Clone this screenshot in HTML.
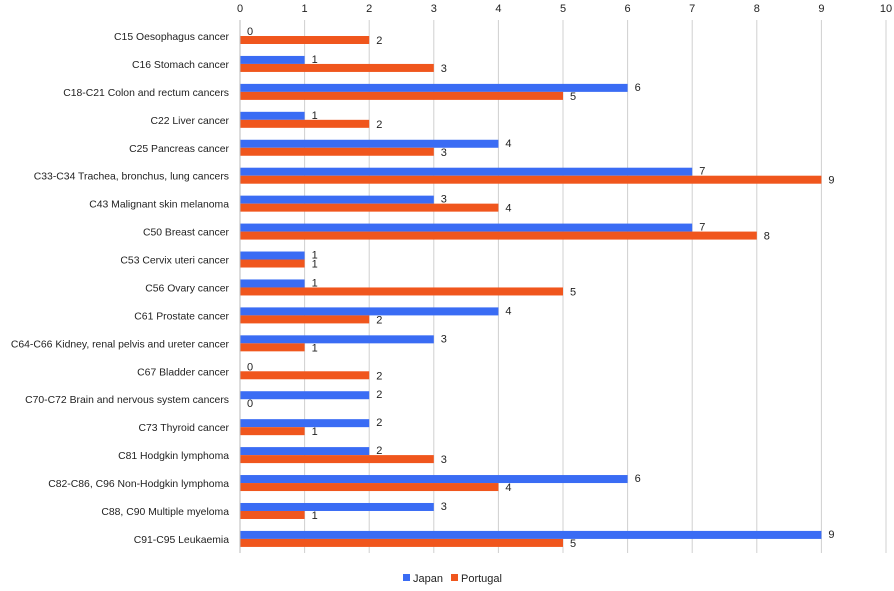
<!DOCTYPE html>
<html><head><meta charset="utf-8"><style>
body{margin:0;background:#fff;font-family:"Liberation Sans",sans-serif;}
svg text{font-family:"Liberation Sans",sans-serif;font-size:11px;fill:#222;}
svg text.cat{font-size:10.4px;}
</style></head><body>
<svg id="c" width="894" height="586"></svg>
<script>
const categories=["C15 Oesophagus cancer","C16 Stomach cancer","C18-C21 Colon and rectum cancers","C22 Liver cancer","C25 Pancreas cancer","C33-C34 Trachea, bronchus, lung cancers","C43 Malignant skin melanoma","C50 Breast cancer","C53 Cervix uteri cancer","C56 Ovary cancer","C61 Prostate cancer","C64-C66 Kidney, renal pelvis and ureter cancer","C67 Bladder cancer","C70-C72 Brain and nervous system cancers","C73 Thyroid cancer","C81 Hodgkin lymphoma","C82-C86, C96 Non-Hodgkin lymphoma","C88, C90 Multiple myeloma","C91-C95 Leukaemia"];
const japan=[0,1,6,1,4,7,3,7,1,1,4,3,0,2,2,2,6,3,9];
const portugal=[2,3,5,2,3,9,4,8,1,5,2,1,2,0,1,3,4,1,5];
const ticks=[0,1,2,3,4,5,6,7,8,9,10];
const svg=document.getElementById('c');const NS='http://www.w3.org/2000/svg';
const x=v=>240+v*64.6;
const y=i=>36+i*27.94;
function mk(t,a,txt){const e=document.createElementNS(NS,t);for(const k in a)e.setAttribute(k,a[k]);if(txt!==undefined)e.textContent=txt;svg.appendChild(e);return e;}
ticks.forEach(t=>{
 const g=mk('line',{x1:x(t),x2:x(t),y1:20,y2:553,stroke:'#d0d0d0','stroke-width':1});
 
 
 const l=mk('text',{x:x(t),y:12,'text-anchor':'middle'},t);
 
 
});
categories.forEach((c,i)=>{
 const l=mk('text',{x:229,y:y(i)+4,'text-anchor':'end','class':'cat'},c);
 
 
 const b1=mk('rect',{x:x(0),y:y(i)-8,width:x(japan[i])-x(0),height:8,fill:'#3a6cf4'});
 
 
 const b2=mk('rect',{x:x(0),y:y(i),width:x(portugal[i])-x(0),height:8,fill:'#f0561d'});
 
 
 const v1=mk('text',{x:x(japan[i])+7,y:y(i)-1},japan[i]);
 
 
 const v2=mk('text',{x:x(portugal[i])+7,y:y(i)+8},portugal[i]);
 
 
});
mk('line',{x1:x(0),x2:x(0),y1:20,y2:553,stroke:'#bbb'});
</script>
<svg width="894" height="586" style="position:absolute;left:0;top:0">
<g>
<rect x="403" y="574" width="7" height="7" fill="#3a6cf4"/>
<text x="413" y="582" font-size="11" fill="#222" font-family="Liberation Sans">Japan</text>
<rect x="451" y="574" width="7" height="7" fill="#f0561d"/>
<text x="461" y="582" font-size="11" fill="#222" font-family="Liberation Sans">Portugal</text>
</g></svg>
</body></html>
